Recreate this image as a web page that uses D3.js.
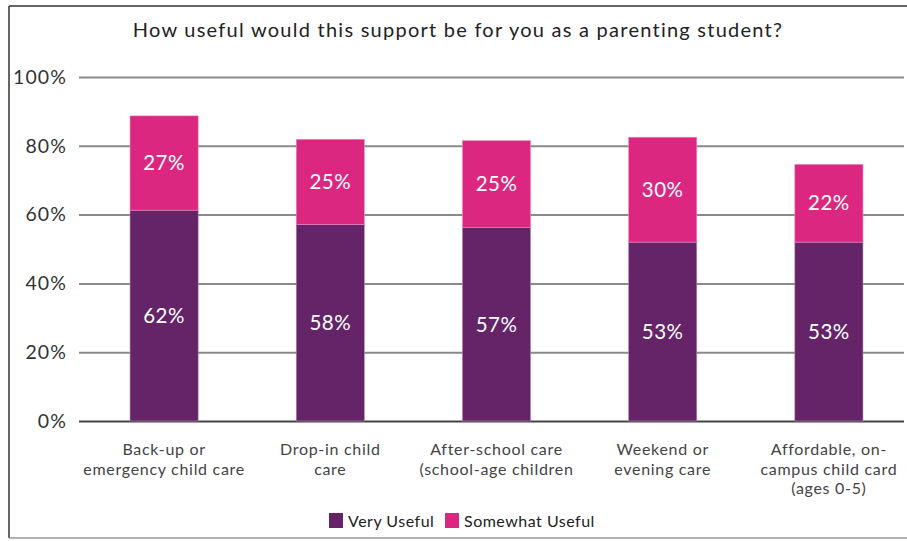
<!DOCTYPE html>
<html>
<head>
<meta charset="utf-8">
<script src="https://cdn.jsdelivr.net/npm/d3@7"></script>
<style>
  body { margin: 0; background: #fff; }
  text { font-family: "Lato", "DejaVu Sans", sans-serif; }
</style>
</head>
<body>
<div id="graphDiv"></div>
<script>
// data
var categories = [
  ["Back-up or", "emergency child care"],
  ["Drop-in child", "care"],
  ["After-school care", "(school-age children"],
  ["Weekend or", "evening care"],
  ["Affordable, on-", "campus child card", "(ages 0-5)"]
];
var veryUseful     = [61.3, 57.1, 56.2, 52.0, 52.0];
var somewhatUseful = [27.4, 24.8, 25.3, 30.5, 22.6];
var veryLabels     = ["62%", "58%", "57%", "53%", "53%"];
var somewhatLabels = ["27%", "25%", "25%", "30%", "22%"];
var yTicks = [0, 20, 40, 60, 80, 100];
var seriesNames = ["Very Useful", "Somewhat Useful"];
var colors = ["#652368", "#db2780"];

var W = 907, H = 541;

var svg = d3.select("#graphDiv")
  .append("svg")
  .attr("width", W)
  .attr("height", H);

// frame
svg.append("line").attr("x1", 9).attr("x2", W).attr("y1", 6).attr("y2", 6)
  .attr("stroke", "#333").attr("stroke-width", 1.5);
svg.append("line").attr("x1", 9).attr("x2", 9).attr("y1", 6).attr("y2", 538)
  .attr("stroke", "#333").attr("stroke-width", 1.5);
svg.append("line").attr("x1", 9).attr("x2", W).attr("y1", 538).attr("y2", 538)
  .attr("stroke", "#999").attr("stroke-width", 1.5);

// title
svg.append("text")
  .attr("x", 458).attr("y", 37)
  .attr("text-anchor", "middle")
  .attr("font-size", 20)
  .attr("letter-spacing", 1.25)
  .attr("fill", "#222")
  .text("How useful would this support be for you as a parenting student?");

var x = d3.scaleBand()
  .domain(d3.range(categories.length))
  .range([81, 912])
  .paddingInner(0.59)
  .paddingOuter(0.295);

var y = d3.scaleLinear()
  .domain([0, 100])
  .range([421, 77]);

// gridlines + tick labels
var yAxis = svg.append("g")
  .attr("transform", "translate(79,0)")
  .call(d3.axisLeft(y).tickValues(yTicks).tickSize(-825).tickFormat(function(d) { return d + "%"; }));
yAxis.select(".domain").remove();
yAxis.selectAll(".tick line")
  .attr("stroke", function(d) { return d === 0 ? "#444" : "#8a8a8a"; })
  .attr("stroke-width", 2);
yAxis.selectAll(".tick text")
  .attr("x", -12)
  .attr("font-size", 19.5)
  .attr("letter-spacing", 1.1)
  .attr("fill", "#333")
  .style("font-family", "Lato, sans-serif");

// bars
var bars = svg.append("g");
bars.selectAll(".very")
  .data(veryUseful)
  .enter()
  .append("rect")
  .attr("x", function(d, i) { return x(i); })
  .attr("width", x.bandwidth())
  .attr("y", function(d) { return y(d); })
  .attr("height", function(d) { return y(0) - y(d); })
  .attr("fill", colors[0])
  .attr("stroke", "#b58bb7").attr("stroke-width", 0.6);

bars.selectAll(".some")
  .data(somewhatUseful)
  .enter()
  .append("rect")
  .attr("x", function(d, i) { return x(i); })
  .attr("width", x.bandwidth())
  .attr("y", function(d, i) { return y(veryUseful[i] + d); })
  .attr("height", function(d, i) { return y(veryUseful[i]) - y(veryUseful[i] + d); })
  .attr("fill", colors[1])
  .attr("stroke", "#f08cc0").attr("stroke-width", 0.6);

// value labels
bars.selectAll(".vlab")
  .data(veryLabels)
  .enter()
  .append("text")
  .attr("x", function(d, i) { return x(i) + x.bandwidth() / 2; })
  .attr("y", function(d, i) { return y(veryUseful[i] / 2); })
  .attr("dy", "0.35em")
  .attr("text-anchor", "middle")
  .attr("font-size", 20.5)
  .attr("letter-spacing", 0.5)
  .attr("fill", "#fff")
  .text(function(d) { return d; });

bars.selectAll(".slab")
  .data(somewhatLabels)
  .enter()
  .append("text")
  .attr("x", function(d, i) { return x(i) + x.bandwidth() / 2; })
  .attr("y", function(d, i) { return y(veryUseful[i] + somewhatUseful[i] / 2); })
  .attr("dy", "0.35em")
  .attr("text-anchor", "middle")
  .attr("font-size", 20.5)
  .attr("letter-spacing", 0.5)
  .attr("fill", "#fff")
  .text(function(d) { return d; });

// category labels
var cats = svg.append("g").selectAll("text")
  .data(categories)
  .enter()
  .append("text")
  .attr("x", function(d, i) { return x(i) + x.bandwidth() / 2; })
  .attr("y", 455)
  .attr("text-anchor", "middle")
  .attr("font-size", 16)
  .attr("letter-spacing", 0.7)
  .attr("fill", "#444");
cats.selectAll("tspan")
  .data(function(d) { return d; })
  .enter()
  .append("tspan")
  .attr("x", function() { return d3.select(this.parentNode).attr("x"); })
  .attr("dy", function(d, j) { return j === 0 ? 0 : 19.5; })
  .text(function(d) { return d; });

// legend
var legendX = [329, 445];
var legend = svg.append("g").selectAll("g")
  .data(seriesNames)
  .enter()
  .append("g")
  .attr("transform", function(d, i) { return "translate(" + legendX[i] + ",513)"; });
legend.append("rect")
  .attr("width", 14).attr("height", 15)
  .attr("fill", function(d, i) { return colors[i]; });
legend.append("text")
  .attr("x", 19).attr("y", 8).attr("dy", "0.35em")
  .attr("font-size", 16)
  .attr("letter-spacing", 0.5)
  .attr("fill", "#222")
  .text(function(d) { return d; });
</script>
</body>
</html>
